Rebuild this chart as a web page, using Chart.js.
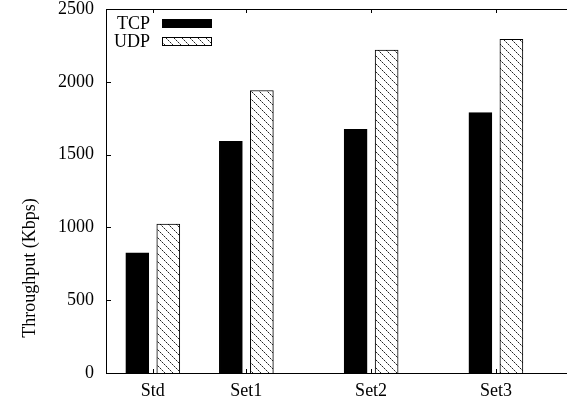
<!DOCTYPE html>
<html>
<head>
<meta charset="utf-8">
<title>Throughput</title>
<script src="https://cdn.jsdelivr.net/npm/chart.js@4/dist/chart.umd.min.js"></script>
<style>
  html, body { margin: 0; padding: 0; background: #fff; overflow: hidden; }
  #wrap { width: 567px; height: 406px; }
</style>
</head>
<body>
<div id="wrap"><canvas id="c" width="567" height="406"></canvas></div>
<script>
// Configurations and where each sits along the x axis
const categories = ['Std', 'Set1', 'Set2', 'Set3'];
const categoryPositions = [0, 0.75, 1.75, 2.75];

// Throughput in Kbps
const tcpValues = [826, 1591, 1674, 1788];
const udpValues = [1023, 1940, 2217, 2292];

// Y axis ticks
const yTicks = [0, 500, 1000, 1500, 2000, 2500];

const FONT = 'Liberation Serif, Times New Roman, serif';
const FONT_SIZE = 18;

// Diagonal hatch fill for the UDP bars
function makeHatch() {
  const t = document.createElement('canvas');
  t.width = 8; t.height = 8;
  const g = t.getContext('2d');
  g.fillStyle = '#fff';
  g.fillRect(0, 0, 8, 8);
  for (let i = 0; i < 8; i++) {
    g.fillStyle = (i % 2 === 0) ? '#222' : '#999';
    g.fillRect(i, i, 1, 1);
  }
  return document.getElementById('c').getContext('2d').createPattern(t, 'repeat');
}
const hatch = makeHatch();

function points(values) {
  return values.map((v, i) => ({ x: categoryPositions[i], y: v }));
}

// Frame, inward tick marks, legend and rotated axis title
const decorations = {
  id: 'decorations',
  afterDatasetsDraw(chart) {
    const { ctx, chartArea: a, scales: { x, y } } = chart;
    ctx.save();
    ctx.strokeStyle = '#000';
    ctx.lineWidth = 1;
    ctx.beginPath();
    // top and bottom borders, left axis
    ctx.moveTo(a.left, a.top + 0.5);
    ctx.lineTo(a.right, a.top + 0.5);
    ctx.moveTo(a.left, a.bottom + 0.5);
    ctx.lineTo(a.right, a.bottom + 0.5);
    ctx.moveTo(a.left + 0.5, a.top);
    ctx.lineTo(a.left + 0.5, a.bottom + 1);
    // y ticks (inward)
    yTicks.forEach(v => {
      const py = Math.round(y.getPixelForValue(v)) + 0.5;
      ctx.moveTo(a.left, py);
      ctx.lineTo(a.left + 5, py);
    });
    // x ticks, bottom and top mirror
    categoryPositions.forEach(p => {
      const px = Math.round(x.getPixelForValue(p)) + 0.5;
      ctx.moveTo(px, a.bottom);
      ctx.lineTo(px, a.bottom - 4);
      ctx.moveTo(px, a.top);
      ctx.lineTo(px, a.top + 4);
    });
    ctx.stroke();

    // legend in the upper-left corner of the plot
    ctx.font = FONT_SIZE + 'px ' + FONT;
    ctx.textAlign = 'right';
    ctx.textBaseline = 'middle';
    chart.data.datasets.forEach((ds, i) => {
      const cy = 23 + i * 18;
      ctx.fillStyle = '#000';
      ctx.fillText(ds.label, 150, cy + 1);
      ctx.fillStyle = ds.backgroundColor;
      ctx.fillRect(162, cy - 4, 50, 9);
      ctx.strokeStyle = '#000';
      ctx.strokeRect(162.5, cy - 3.5, 49, 8);
    });

    // y axis title
    ctx.translate(30, 268);
    ctx.rotate(-Math.PI / 2);
    ctx.textAlign = 'center';
    ctx.fillStyle = '#000';
    ctx.fillText('Throughput (Kbps)', 0, 0);
    ctx.restore();
  }
};

new Chart(document.getElementById('c'), {
  type: 'bar',
  data: {
    datasets: [
      {
        label: 'TCP',
        data: points(tcpValues),
        backgroundColor: '#000',
        borderColor: '#000',
        borderWidth: 1
      },
      {
        label: 'UDP',
        data: points(udpValues),
        backgroundColor: hatch,
        borderColor: '#000',
        borderWidth: 1
      }
    ]
  },
  options: {
    responsive: false,
    animation: false,
    layout: { padding: { top: 9, right: 0, left: 0, bottom: 0 } },
    datasets: {
      bar: { barThickness: 31, maxBarThickness: 23 }
    },
    plugins: {
      legend: { display: false },
      tooltip: { enabled: false }
    },
    scales: {
      x: {
        type: 'linear',
        offset: false,
        min: -0.375,
        max: 3.32,
        afterBuildTicks(scale) {
          scale.ticks = categoryPositions.map(v => ({ value: v }));
        },
        afterFit(scale) {
          scale.height = 33;
          scale.paddingLeft = 0;
          scale.paddingRight = 0;
        },
        grid: { display: false, drawTicks: false, offset: false },
        border: { display: false },
        ticks: {
          color: '#000',
          padding: 7,
          maxRotation: 0,
          autoSkip: false,
          font: { family: FONT, size: FONT_SIZE },
          callback(value) {
            const i = categoryPositions.indexOf(value);
            return i >= 0 ? categories[i] : '';
          }
        }
      },
      y: {
        min: 0,
        max: 2500,
        afterBuildTicks(scale) {
          scale.ticks = yTicks.map(v => ({ value: v }));
        },
        afterFit(scale) {
          scale.width = 106;
          scale.paddingTop = 0;
          scale.paddingBottom = 0;
        },
        grid: { display: false, drawTicks: false },
        border: { display: false },
        ticks: {
          color: '#000',
          padding: 12,
          font: { family: FONT, size: FONT_SIZE },
          callback(value) { return String(value); }
        }
      }
    }
  },
  plugins: [decorations]
});
</script>
</body>
</html>
